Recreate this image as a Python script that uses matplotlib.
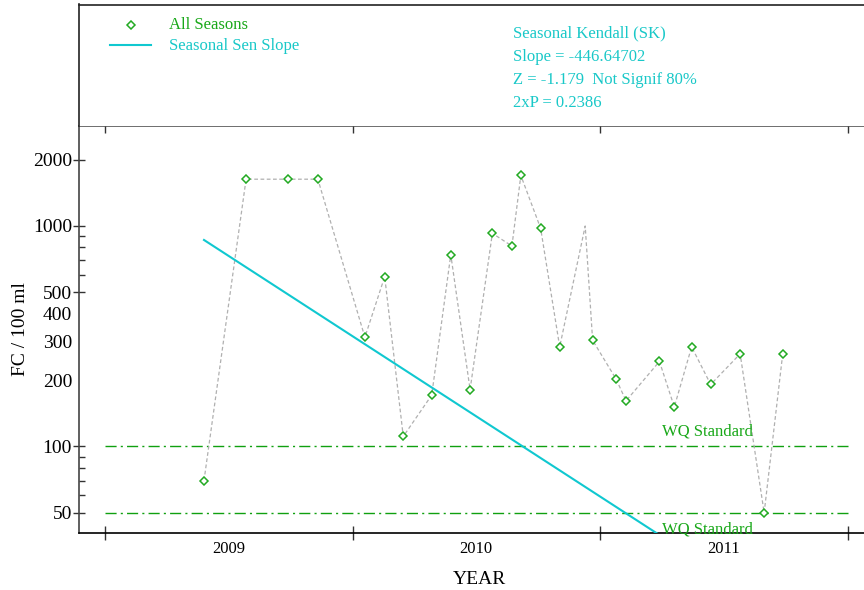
import numpy as np
import matplotlib
matplotlib.use("Agg")
import matplotlib.pyplot as plt
from matplotlib.ticker import FixedLocator, NullFormatter

plt.rcParams['font.family'] = ['Liberation Serif', 'DejaVu Serif']

# sample dates (decimal year) and fecal coliform counts
years = [2009.40, 2009.57, 2009.74, 2009.86, 2010.05, 2010.13, 2010.205, 2010.32,
         2010.397, 2010.475, 2010.565, 2010.644, 2010.68, 2010.76, 2010.837,
         2010.94, 2010.97, 2011.065, 2011.105, 2011.24, 2011.30, 2011.37,
         2011.447, 2011.566, 2011.663, 2011.738]
fc = [70, 1630, 1630, 1630, 313, 589, 111, 171, 741, 181, 926, 811, 1695, 976,
      283, 1000, 303, 202, 161, 243, 151, 283, 191, 263, 50, 263]
# the 1000 value is drawn on the line only, without marker
marked = [True] * len(fc)
marked[15] = False

sen_x = [2009.40, 2011.235]
sen_y = [864, 40]

wq_levels = [100, 50]
wq_x = [2009.0, 2012.0]

stats = ["Seasonal Kendall (SK)", "Slope = -446.64702",
         "Z = -1.179  Not Signif 80%", "2xP = 0.2386"]

W, H = 864, 590
green = '#19a819'
cyan = '#19c8c8'

fig = plt.figure(figsize=(W / 100, H / 100), dpi=100)

def frac(x0, y0, x1, y1):
    return [x0 / W, 1 - y1 / H, (x1 - x0) / W, (y1 - y0) / H]

ax = fig.add_axes(frac(79, 125.7, 880, 533))
box = fig.add_axes(frac(79, 4.5, 880, 125.7))

# main plot
ax.set_yscale('log')
ax.plot(years, fc, color='#b0b0b0', lw=0.9, dashes=(3, 2), zorder=2)
mx = [x for x, m in zip(years, marked) if m]
my = [y for y, m in zip(fc, marked) if m]
ax.plot(mx, my, ls='none', marker='D', ms=4.5, mfc='white', mec='#22aa22',
        mew=1.1, zorder=4)
ax.plot(sen_x, sen_y, color='#10c8d0', lw=1.5, zorder=3)
for lvl in wq_levels:
    ax.plot(wq_x, [lvl, lvl], color='#10a010', lw=1.0, dashes=(8, 3, 1.5, 3),
            zorder=1)
ax.text(2011.435, 100 * 1.075, 'WQ Standard', color=green, fontsize=12,
        ha='center', va='bottom')
ax.text(2011.435, 50 / 1.1, 'WQ Standard', color=green, fontsize=12,
        ha='center', va='top')

ax.set_xlim(2008.895, 2012.131)
ax.set_ylim(40.5, 2850)

ax.xaxis.set_major_locator(FixedLocator([2009, 2010, 2011, 2012]))
ax.xaxis.set_major_formatter(NullFormatter())
ax.xaxis.set_minor_locator(FixedLocator([2009.5, 2010.5, 2011.5]))
ax.set_xticklabels(['2009', '2010', '2011'], minor=True)
ax.tick_params(axis='x', which='major', direction='inout', length=10,
               width=1, top=True, bottom=True, color='#333333')
ax.tick_params(axis='x', which='minor', length=0, pad=6, labelsize=12)

yt = [50, 100, 200, 300, 400, 500, 1000, 2000]
ax.yaxis.set_major_locator(FixedLocator(yt))
ax.set_yticklabels([str(v) for v in yt])
ax.yaxis.set_minor_locator(FixedLocator([60, 70, 80, 90, 600, 700, 800, 900]))
ax.yaxis.set_minor_formatter(NullFormatter())
ax.tick_params(axis='y', which='major', direction='inout', length=8, width=1,
               pad=1, labelsize=14, color='#333333')
ax.tick_params(axis='y', which='minor', direction='in', length=4, width=1,
               color='#333333')
for t, v in zip(ax.yaxis.get_major_ticks(), yt):
    if v in (200, 300, 400):
        t.tick1line.set_visible(False)

ax.spines['right'].set_visible(False)
ax.spines['left'].set_color('#444444')
ax.spines['top'].set_color('#555555')
ax.spines['bottom'].set_color('black')
for s in ax.spines.values():
    s.set_linewidth(1.2)

ax.set_xlabel('YEAR', fontsize=14, labelpad=10)
ax.set_ylabel('FC / 100 ml', fontsize=14, labelpad=3)

# legend / stats box, drawn in pixel coordinates
box.set_xlim(79, 880)
box.set_ylim(125.7, 4.5)
box.set_xticks([])
box.set_yticks([])
box.spines['right'].set_visible(False)
box.spines['bottom'].set_visible(False)
for s in ('left', 'top'):
    box.spines[s].set_color('#222222')
    box.spines[s].set_linewidth(1.2)

box.plot([130.7], [24.7], ls='none', marker='D', ms=4.5, mfc='white',
         mec='#22aa22', mew=1.1)
box.plot([110, 151], [45, 45], color='#10c8d0', lw=1.5)
box.text(169, 25, 'All Seasons', color=green, fontsize=12, va='center')
box.text(169, 45.5, 'Seasonal Sen Slope', color=cyan, fontsize=12,
         va='center')
for i, s in enumerate(stats):
    box.text(513, 33.3 + i * 23.3, s, color=cyan, fontsize=12, va='center')

fig.savefig('out.png', dpi=100)
